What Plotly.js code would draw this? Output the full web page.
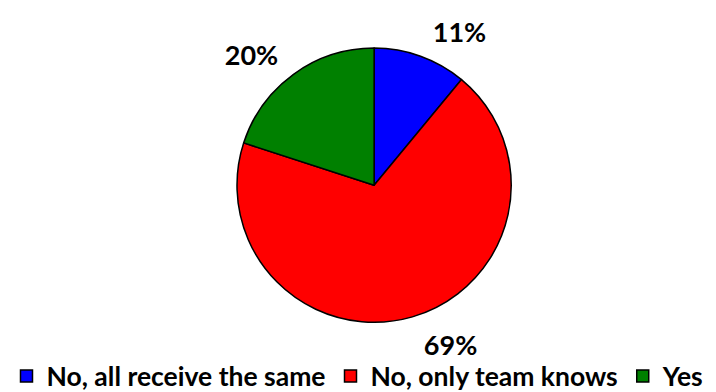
<!DOCTYPE html>
<html><head><meta charset="utf-8">
<script src="https://cdn.plot.ly/plotly-3.0.1.min.js"></script>
<style>html,body{margin:0;padding:0;background:#fff}</style>
</head><body>
<div id="chart" style="width:716px;height:392px"></div>
<script>
const categories = ["No, all receive the same", "No, only team knows", "Yes"];
const values = [11, 69, 20];
const colors = ["#0000FF", "#FF0000", "#008000"];

const font = "Lato, 'Open Sans', sans-serif";

// visible pie (slices + legend)
const pie = {
  type: "pie",
  labels: categories,
  values: values,
  sort: false,
  direction: "clockwise",
  rotation: 0,
  marker: {colors: colors, line: {color: "#000", width: 1.5}},
  textinfo: "none",
  hoverinfo: "label+percent",
  domain: {x: [0.331, 0.714], y: [0.14, 0.915]},
  automargin: false
};

// transparent companion pie, only used to place the percent labels a bit further out
const labelsPie = {
  type: "pie",
  labels: categories,
  values: values,
  sort: false,
  direction: "clockwise",
  rotation: 0,
  marker: {colors: ["rgba(0,0,0,0)", "rgba(0,0,0,0)", "rgba(0,0,0,0)"], line: {width: 0}},
  textinfo: "percent",
  texttemplate: "%{percent:.0%}",
  textposition: "outside",
  textfont: {family: font, size: 27, color: "#000", weight: "bold"},
  hoverinfo: "skip",
  showlegend: false,
  domain: {x: [0.3143, 0.7305], y: [0.135, 0.916]},
  automargin: false
};

const layout = {
  width: 716, height: 392,
  margin: {l: 0, r: 0, t: 0, b: 0, autoexpand: false},
  paper_bgcolor: "#fff",
  showlegend: true,
  legend: {
    orientation: "h", x: 0.5, xanchor: "center",
    y: -0.021, yanchor: "bottom",
    bgcolor: "rgba(0,0,0,0)",
    font: {family: font, size: 26.5, color: "#000", weight: "bold"},
    itemwidth: 30, traceorder: "normal"
  }
};

Plotly.newPlot("chart", [pie, labelsPie], layout, {displayModeBar: false, staticPlot: true});
</script>
</body></html>
